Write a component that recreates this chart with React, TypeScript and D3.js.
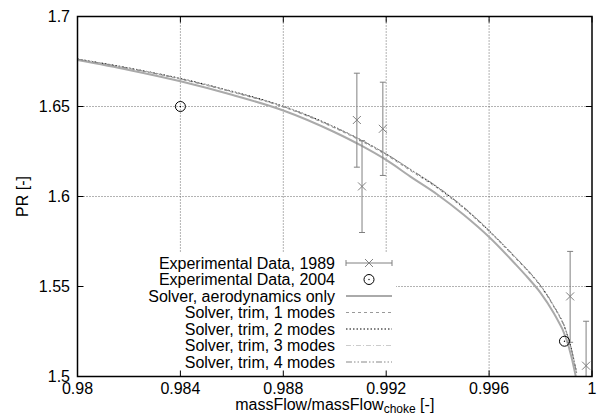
import React from "react";
import * as d3 from "d3";

const xTicks = [0.98, 0.984, 0.988, 0.992, 0.996, 1.0];
const xTickLabels = ["0.98", "0.984", "0.988", "0.992", "0.996", "1"];
const yTicks = [1.5, 1.55, 1.6, 1.65, 1.7];
const yTickLabels = ["1.5", "1.55", "1.6", "1.65", "1.7"];

// Experimental Data 1989: x, y, yLow, yHigh
const exp1989X = [0.99086, 0.99106, 0.99187, 0.99915, 0.99977];
const exp1989Y = [1.6425, 1.6056, 1.6376, 1.5445, 1.506];
const exp1989Lo = [1.6163, 1.58, 1.6117, 1.519, 1.48];
const exp1989Hi = [1.6685, 1.631, 1.6635, 1.5695, 1.5307];

// Experimental Data 2004
const exp2004X = [0.984, 0.99893];
const exp2004Y = [1.65, 1.5196];

// Solver curves
const curveX = [0.98, 0.982, 0.984, 0.986, 0.988, 0.99, 0.991, 0.992, 0.993, 0.994, 0.995, 0.996, 0.997, 0.9975, 0.998, 0.9985, 0.999, 0.9992, 0.9994];
const aeroY = [1.6758, 1.6703, 1.664, 1.6565, 1.6478, 1.6357, 1.6285, 1.6203, 1.6105, 1.601, 1.59, 1.5775, 1.5628, 1.555, 1.5465, 1.5355, 1.521, 1.511, 1.498];
const trim1Y = [1.6762, 1.6711, 1.6652, 1.658, 1.6497, 1.638, 1.631, 1.623, 1.6138, 1.6045, 1.5935, 1.5805, 1.566, 1.5585, 1.55, 1.539, 1.5245, 1.5148, 1.5018];
const trim2Y = [1.6764, 1.6714, 1.6656, 1.6585, 1.6502, 1.6386, 1.6316, 1.6236, 1.6144, 1.605, 1.594, 1.581, 1.5665, 1.559, 1.5505, 1.5395, 1.525, 1.5152, 1.5022];
const trim3Y = [1.6763, 1.6713, 1.6655, 1.6584, 1.6501, 1.6385, 1.6316, 1.6238, 1.6147, 1.6054, 1.5944, 1.5813, 1.5667, 1.5592, 1.5506, 1.5396, 1.5251, 1.5153, 1.5023];
const trim4Y = [1.6763, 1.6712, 1.6654, 1.6583, 1.65, 1.6384, 1.6315, 1.6236, 1.6145, 1.6052, 1.5942, 1.5811, 1.5666, 1.5591, 1.5505, 1.5395, 1.525, 1.5152, 1.5022];

const legendLabels = [
  "Experimental Data, 1989",
  "Experimental Data, 2004",
  "Solver, aerodynamics only",
  "Solver, trim, 1 modes",
  "Solver, trim, 2 modes",
  "Solver, trim, 3 modes",
  "Solver, trim, 4 modes",
];

const L = 77.5, R = 592, T = 16.5, B = 376.5;
const FONT = "'Liberation Sans', Arial, Helvetica, sans-serif";

const curveStyles = [
  { ys: aeroY, stroke: "#aaaaaa", width: 2, dash: undefined as string | undefined },
  { ys: trim1Y, stroke: "#999999", width: 1, dash: "3,3" },
  { ys: trim2Y, stroke: "#000000", width: 1, dash: "1.5,2" },
  { ys: trim3Y, stroke: "#cccccc", width: 1, dash: "5,2,1,2" },
  { ys: trim4Y, stroke: "#888888", width: 1, dash: "6,2,1.5,2,1.5,2" },
];

export default function App() {
  const x = d3.scaleLinear().domain([0.98, 1.0]).range([L, R]);
  const y = d3.scaleLinear().domain([1.5, 1.7]).range([B, T]);
  const line = (ys: number[]) =>
    d3.line<number>().x((_, i) => x(curveX[i])).y((d) => y(d)).curve(d3.curveMonotoneX)(ys) || "";

  const legRowY = (i: number) => 263 + i * 16.5;
  const legTextX = 335;
  const legS0 = 346, legS1 = 392;
  const cap = 3;
  const xs = 4;

  return (
    <svg width={604} height={417} style={{ position: "absolute", left: 0, top: 0 }} fontFamily={FONT}>
      <rect width={604} height={417} fill="#fff" />
      <defs>
        <clipPath id="plotclip">
          <rect x={L} y={T} width={R - L} height={B - T} />
        </clipPath>
      </defs>
      {/* grid */}
      {xTicks.slice(1, -1).map((t) => (
        <line key={"gx" + t} x1={x(t)} x2={x(t)} y1={T} y2={B} stroke="#666" strokeWidth={1} strokeDasharray="1,2" />
      ))}
      {yTicks.slice(1, -1).map((t) => (
        <line key={"gy" + t} x1={L} x2={R} y1={y(t)} y2={y(t)} stroke="#666" strokeWidth={1} strokeDasharray="1,2" />
      ))}
      {/* legend box (opaque) */}
      <rect x={L + 1} y={252} width={396 - L - 1} height={B - 252 - 1} fill="#fff" />
      {/* ticks */}
      {xTicks.map((t) => (
        <g key={"tx" + t}>
          <line x1={x(t)} x2={x(t)} y1={B} y2={B - 6} stroke="#000" />
          <line x1={x(t)} x2={x(t)} y1={T} y2={T + 6} stroke="#000" />
        </g>
      ))}
      {yTicks.map((t) => (
        <g key={"ty" + t}>
          <line x1={L} x2={L + 6} y1={y(t)} y2={y(t)} stroke="#000" />
          <line x1={R} x2={R - 6} y1={y(t)} y2={y(t)} stroke="#000" />
        </g>
      ))}
      {/* curves */}
      <g clipPath="url(#plotclip)">
        {curveStyles.map((c, i) => (
          <path key={"c" + i} d={line(c.ys)} fill="none" stroke={c.stroke} strokeWidth={c.width} strokeDasharray={c.dash} />
        ))}
        {exp1989X.map((xv, i) => {
          const cx = x(xv), cy = y(exp1989Y[i]);
          const y0 = y(exp1989Lo[i]), y1 = y(exp1989Hi[i]);
          return (
            <g key={"e" + i} stroke="#808080" strokeWidth={1} fill="none">
              <line x1={cx} x2={cx} y1={y0} y2={y1} />
              <line x1={cx - cap} x2={cx + cap} y1={y0} y2={y0} />
              <line x1={cx - cap} x2={cx + cap} y1={y1} y2={y1} />
              <line x1={cx - xs} x2={cx + xs} y1={cy - xs} y2={cy + xs} />
              <line x1={cx - xs} x2={cx + xs} y1={cy + xs} y2={cy - xs} />
            </g>
          );
        })}
        {exp2004X.map((xv, i) => (
          <g key={"o" + i}>
            <circle cx={x(xv)} cy={y(exp2004Y[i])} r={5} fill="none" stroke="#000" strokeWidth={1} />
            <circle cx={x(xv)} cy={y(exp2004Y[i])} r={0.7} fill="#000" />
          </g>
        ))}
      </g>
      {/* legend */}
      {legendLabels.map((lab, i) => (
        <text key={"lt" + i} x={legTextX} y={legRowY(i)} dy="0.35em" textAnchor="end" fontSize={16} fill="#000">
          {lab}
        </text>
      ))}
      <g stroke="#808080" strokeWidth={1}>
        <line x1={legS0} x2={legS1} y1={legRowY(0)} y2={legRowY(0)} />
        <line x1={legS0} x2={legS0} y1={legRowY(0) - cap} y2={legRowY(0) + cap} />
        <line x1={legS1} x2={legS1} y1={legRowY(0) - cap} y2={legRowY(0) + cap} />
        <line x1={(legS0 + legS1) / 2 - xs} x2={(legS0 + legS1) / 2 + xs} y1={legRowY(0) - xs} y2={legRowY(0) + xs} />
        <line x1={(legS0 + legS1) / 2 - xs} x2={(legS0 + legS1) / 2 + xs} y1={legRowY(0) + xs} y2={legRowY(0) - xs} />
      </g>
      <circle cx={(legS0 + legS1) / 2} cy={legRowY(1)} r={5} fill="none" stroke="#000" />
      <circle cx={(legS0 + legS1) / 2} cy={legRowY(1)} r={0.7} fill="#000" />
      {curveStyles.map((c, i) => (
        <line key={"ls" + i} x1={legS0} x2={legS1} y1={legRowY(i + 2)} y2={legRowY(i + 2)} stroke={c.stroke} strokeWidth={c.width} strokeDasharray={c.dash} />
      ))}
      {/* border */}
      <rect x={L} y={T} width={R - L} height={B - T} fill="none" stroke="#000" strokeWidth={1.5} />
      {/* tick labels */}
      {xTicks.map((t, i) => (
        <text key={"xl" + t} x={x(t)} y={388} dy="0.35em" textAnchor="middle" fontSize={16} fill="#000">
          {xTickLabels[i]}
        </text>
      ))}
      {yTicks.map((t, i) => (
        <text key={"yl" + t} x={70} y={y(t)} dy="0.35em" textAnchor="end" fontSize={16} fill="#000">
          {yTickLabels[i]}
        </text>
      ))}
      {/* axis titles */}
      <text x={(L + R) / 2} y={410} textAnchor="middle" fontSize={16} fill="#000">
        massFlow/massFlow
        <tspan fontSize={12} dy={3}>choke</tspan>
        <tspan dy={-3}> [-]</tspan>
      </text>
      <text transform={`translate(22,${(T + B) / 2}) rotate(-90)`} textAnchor="middle" dy="0.35em" fontSize={16} fill="#000">
        PR [-]
      </text>
    </svg>
  );
}
